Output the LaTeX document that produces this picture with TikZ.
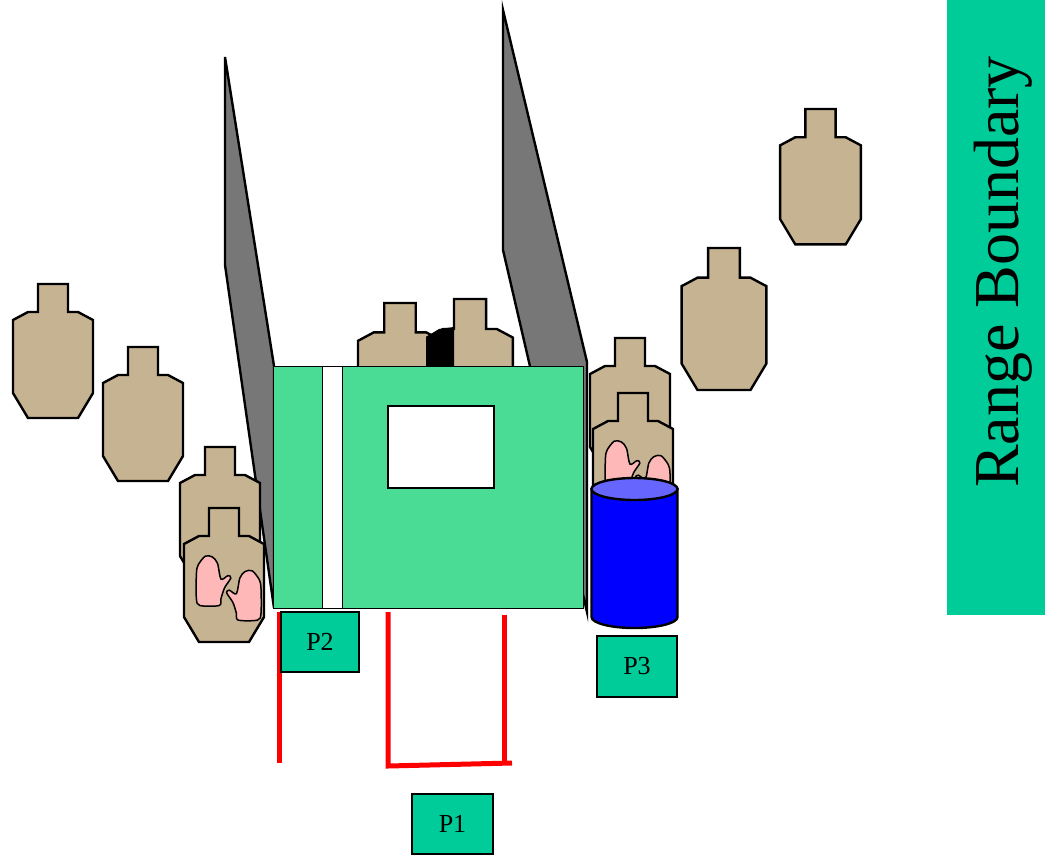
\documentclass[tikz,border=0pt]{standalone}
\usepackage{fontspec}
\setmainfont{Liberation Serif}
\usetikzlibrary{shapes,arrows,positioning}

\definecolor{cardboard}{HTML}{C6B391}
\definecolor{boxgreen}{HTML}{4ADC94}
\definecolor{plate}{HTML}{00CC99}
\definecolor{wallgrey}{HTML}{777777}
\definecolor{skin}{HTML}{FFB8B8}
\definecolor{drum}{HTML}{0000FF}
\definecolor{drumtop}{HTML}{6666FF}

\begin{document}
\begin{tikzpicture}[
    x=1pt, y=-1pt,
    outline/.style={draw=black, line width=2.4pt, line join=miter},
    wall/.style={outline, fill=wallgrey},
    hand/.style={draw=black, line width=1.5pt, fill=skin},
    redline/.style={red, line width=5pt},
    pbox/.style={draw, line width=1.5pt, fill=plate, minimum width=78pt, minimum height=60pt, inner sep=0pt, font=\fontsize{26}{30}\selectfont},
    target/.pic={
        \draw[outline, fill=cardboard] (-15,0) -- (15,0) -- (15,28) -- (25,28) -- (40,36) -- (40,109)
            -- (25,134) -- (-25,134) -- (-40,109) -- (-40,36) -- (-25,28) -- (-15,28) -- cycle;
    },
    palm/.pic={
        \draw[hand] plot[smooth cycle, tension=0.5] coordinates {(-25.9,52.1) (-18.8,43.2) (-11.7,43.9)
            (-6.5,50.3) (-3.0,66.1) (4.0,62.6) (6.8,65.1) (0.5,74.9) (-3.0,85.6) (-4.8,92.5)
            (-24.1,92.5) (-27.6,85.6) (-27.6,60.8)};
    },
    noshoot/.pic={
        \pic{target};
        \pic[shift={(0,5)}]{palm};
        \pic[shift={(9.4,19.6)}, xscale=-1]{palm};
    }
]
\useasboundingbox (0,0) rectangle (1045,855);

% WALLS
\draw[wall] (225,57) -- (274,366) -- (274,608) -- (225,265) -- cycle;
\draw[wall] (503,10) -- (587,362) -- (587,612) -- (503,250) -- cycle;

% TARGETS
\foreach \x/\y/\s in {53/284/1, 143/347/1, 220/447/1, 400/303/1.05, 470/299/1.07,
                      630/338/1, 724/248/1.06, 820.5/109/1.01} {
    \pic[scale=\s] at (\x,\y) {target};
}
\pic[scale=1.05] at (224,508) {noshoot};
\pic[scale=1.08] at (633,393) {noshoot};
\fill[black] (426,366) -- (426,337) -- (439,329) -- (454,327) -- (454,366) -- cycle;

% SHED
\draw[thin, fill=boxgreen] (273,366) rectangle (583,608);
\draw[thin, fill=white] (322,366) rectangle (342,608);
\draw[line width=1.5pt, fill=white] (388,406) rectangle (494,488);

% BARREL
\draw[outline, fill=drum] (591.5,489) -- (591.5,617) arc[start angle=180, end angle=0, x radius=43, y radius=11]
    -- (677.5,489) -- cycle;
\draw[outline, fill=drumtop] (634.5,489) ellipse [x radius=43, y radius=11];

% FAULT LINES
\draw[redline] (279,612) -- (279,763);
\draw[redline] (388,612) -- (388,766) -- (512,763);
\draw[redline] (504,615) -- (504,763);

% SHOOTING POSITIONS
\node[pbox] (p2) at (320,642) {P2};
\node[pbox, minimum width=80pt, minimum height=61pt] (p3) at (637,666.5) {P3};
\node[pbox, minimum width=81pt] (p1) at (452.5,824) {P1};

% RANGE BOUNDARY
\fill[plate] (947,0) rectangle (1045,615);
\node[rotate=90, font=\fontsize{64}{70}\selectfont] (range) at (1003,272) {Range Boundary};

\end{tikzpicture}
\end{document}
